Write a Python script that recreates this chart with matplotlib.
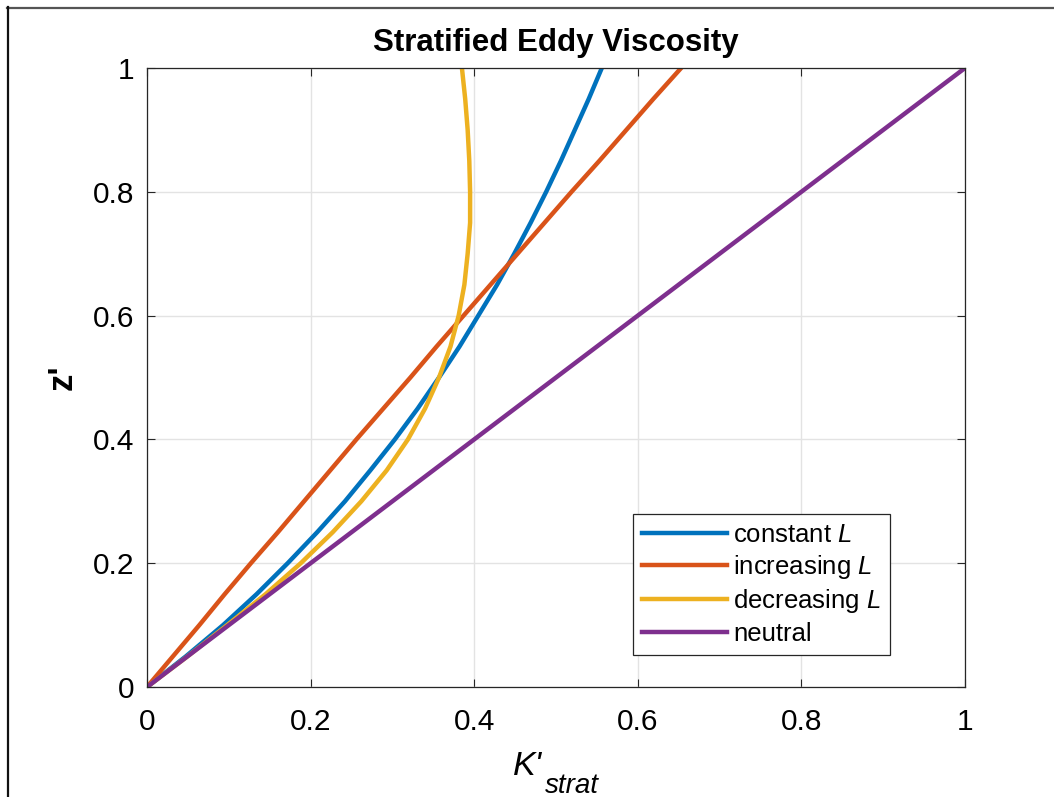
import matplotlib
matplotlib.use('Agg')
import matplotlib.pyplot as plt
from matplotlib.lines import Line2D

plt.rcParams['font.family'] = ['Liberation Sans', 'DejaVu Sans']
plt.rcParams['mathtext.fontset'] = 'custom'
plt.rcParams['mathtext.rm'] = 'Liberation Sans'
plt.rcParams['mathtext.it'] = 'Liberation Sans:italic'

# --- data (z' vs K'_strat) ---
z = [0.00, 0.05, 0.10, 0.15, 0.20, 0.25, 0.30, 0.35, 0.40, 0.45, 0.50,
     0.55, 0.60, 0.65, 0.70, 0.75, 0.80, 0.85, 0.90, 0.95, 1.00]
k_constant = [0.000, 0.048, 0.093, 0.134, 0.172, 0.208, 0.242, 0.273, 0.303, 0.331, 0.357,
              0.382, 0.405, 0.428, 0.449, 0.469, 0.488, 0.506, 0.523, 0.540, 0.556]
k_increasing = [0.000, 0.032, 0.064, 0.095, 0.127, 0.160, 0.192, 0.224, 0.256, 0.289, 0.322,
                0.354, 0.387, 0.420, 0.453, 0.486, 0.519, 0.553, 0.586, 0.619, 0.653]
k_decreasing = [0.000, 0.050, 0.098, 0.145, 0.188, 0.227, 0.262, 0.293, 0.319, 0.340, 0.357,
                0.371, 0.381, 0.388, 0.392, 0.395, 0.395, 0.394, 0.392, 0.389, 0.385]
z_neutral = [0.0, 1.0]
k_neutral = [0.0, 1.0]

labels = ['constant $L$', 'increasing $L$', 'decreasing $L$', 'neutral']
colors = ['#0072BD', '#D95319', '#EDB120', '#7E2F8E']
ticks = [0, 0.2, 0.4, 0.6, 0.8, 1]
tick_labels = ['0', '0.2', '0.4', '0.6', '0.8', '1']

W, H = 1054, 797
fig = plt.figure(figsize=(W / 100, H / 100), dpi=100)
ax = fig.add_axes([147 / W, 1 - 687 / H, 818 / W, 619 / H])

ax.plot(k_constant, z, color=colors[0], lw=3.2, label=labels[0])
ax.plot(k_increasing, z, color=colors[1], lw=3.2, label=labels[1])
ax.plot(k_decreasing, z, color=colors[2], lw=3.2, label=labels[2])
ax.plot(k_neutral, z_neutral, color=colors[3], lw=3.2, label=labels[3])

ax.set_xlim(0, 1)
ax.set_ylim(0, 1)
ax.set_xticks(ticks)
ax.set_xticklabels(tick_labels)
ax.set_yticks(ticks)
ax.set_yticklabels(tick_labels)
ax.tick_params(direction='in', length=6, width=0.8, top=True, right=True,
               labelsize=21.5, color='#262626')
ax.tick_params(axis='x', pad=15)
ax.tick_params(axis='y', pad=9)
ax.grid(True, color='#e3e3e3', lw=1)
ax.set_axisbelow(True)
for s in ax.spines.values():
    s.set_color('#262626')
    s.set_linewidth(0.9)

ax.set_title('Stratified Eddy Viscosity', fontsize=22.5, fontweight='bold', pad=12)
ax.set_ylabel("z'", fontsize=25, fontweight='bold', labelpad=10)

# x label: K' with a dropped "strat" subscript, placed like the original
fig.text(513 / W, 1 - 775 / H, "K'", fontsize=24.5, style='italic', va='baseline')
fig.text(545 / W, 1 - 793 / H, "strat", fontsize=20, style='italic', va='baseline')

leg = ax.legend(loc='lower right', bbox_to_anchor=(0.908, 0.052), borderaxespad=0,
                fontsize=18.5, handlelength=3.3, handletextpad=0.25, labelspacing=0.25,
                borderpad=0.35, fancybox=False, framealpha=1, edgecolor='#262626')
leg.get_frame().set_linewidth(0.9)

# outer frame (cropped screenshot border)
fig.add_artist(Line2D([7 / W, 1], [1 - 7.5 / H, 1 - 7.5 / H],
                      transform=fig.transFigure, color='#555555', lw=1.6))
fig.add_artist(Line2D([7.5 / W, 7.5 / W], [0, 1 - 7 / H],
                      transform=fig.transFigure, color='#111111', lw=1.6))

fig.savefig('out.png', dpi=100)
